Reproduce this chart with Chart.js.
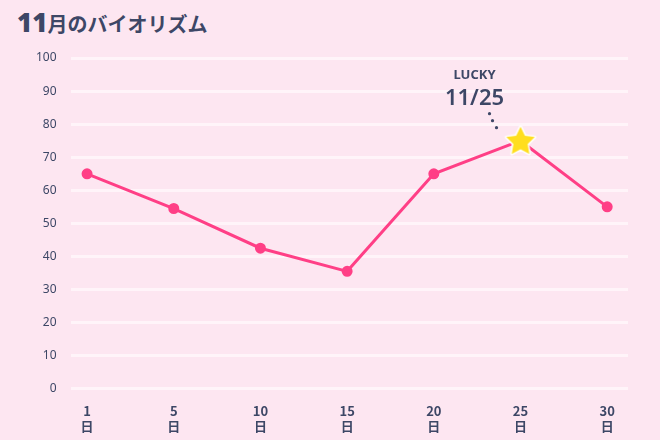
<!DOCTYPE html>
<html><head><meta charset="utf-8">
<script src="https://cdn.jsdelivr.net/npm/chart.js@4"></script>
<style>
html,body{margin:0;padding:0;background:#fde6f1;}
#wrap{position:relative;width:660px;height:440px;}
#title{position:absolute;left:17px;top:4px;font-family:"Noto Sans CJK JP";font-weight:bold;color:#3d4766;font-size:20px;}
#title b{font-size:26px;font-family:"Noto Sans";}
canvas{position:absolute;left:0;top:0;}
</style></head>
<body><div id="wrap"><div id="title"><b>11</b>月のバイオリズム</div><canvas id="c" width="660" height="440"></canvas></div>
<script>
const days = ['1', '5', '10', '15', '20', '25', '30'];
const values = [65, 54.5, 42.5, 35.5, 65, 75, 55];
const luckyIndex = 5;
const luckyLabel = ['LUCKY', '11/25'];

// star image for the lucky point
function makeStar(r) {
    const cv = document.createElement('canvas');
    const s = r * 2 + 6;
    cv.width = s; cv.height = s;
    const g = cv.getContext('2d');
    g.beginPath();
    for (let i = 0; i < 10; i++) {
        const rad = i % 2 ? r * 0.5 : r;
        const a = -Math.PI / 2 + i * Math.PI / 5;
        g.lineTo(s / 2 + rad * Math.cos(a), s / 2 + 1 + rad * Math.sin(a));
    }
    g.closePath();
    g.lineJoin = 'round';
    g.lineWidth = 3;
    g.strokeStyle = '#ffffff';
    g.stroke();
    g.fillStyle = '#ffde1f';
    g.fill();
    return cv;
}
const star = makeStar(15);

const luckyPlugin = {
    id: 'lucky',
    afterDatasetsDraw(chart) {
        const ctx = chart.ctx;
        const x = chart.scales.x.getPixelForValue(luckyIndex);
        const y = chart.scales.y.getPixelForValue(values[luckyIndex]);
        ctx.save();
        ctx.fillStyle = '#3d4766';
        ctx.textAlign = 'center';
        ctx.font = 'bold 13px "Noto Sans"';
        ctx.fillText(luckyLabel[0], x - 46, 79);
        ctx.font = '600 22px "Noto Sans"';
        ctx.fillText(luckyLabel[1], x - 46, 105);
        [[-31, -27], [-28, -20], [-24, -13]].forEach(p => {
            ctx.beginPath();
            ctx.arc(x + p[0], y + p[1], 1.6, 0, Math.PI * 2);
            ctx.fill();
        });
        ctx.restore();
    }
};

new Chart(document.getElementById('c'), {
    type: 'line',
    data: {
        datasets: [{
            data: values.map((v, i) => ({ x: i, y: v })),
            borderColor: '#ff3f86',
            backgroundColor: '#ff3f86',
            borderWidth: 3,
            tension: 0,
            pointRadius: 4,
            pointStyle: values.map((v, i) => i === luckyIndex ? star : 'circle')
        }]
    },
    options: {
        responsive: false,
        animation: false,
        layout: { padding: { top: 58, right: 32, left: 22, bottom: 0 } },
        plugins: { legend: { display: false }, tooltip: { enabled: false } },
        scales: {
            y: {
                min: 0, max: 100,
                ticks: { stepSize: 10, color: '#3d4766', font: { family: 'Noto Sans', size: 12 }, padding: 14 },
                grid: { color: '#fff4f9', lineWidth: 3, drawTicks: false },
                border: { display: false }
            },
            x: {
                type: 'linear',
                min: -0.19, max: 6.24,
                afterBuildTicks: axis => { axis.ticks = days.map((d, i) => ({ value: i })); },
                ticks: {
                    color: '#3d4766', font: { family: 'Noto Sans CJK JP', size: 13, weight: 'bold' }, padding: 6,
                    callback: v => [days[v], '日']
                },
                grid: { display: false },
                border: { display: false }
            }
        }
    },
    plugins: [luckyPlugin]
});
</script></body></html>
